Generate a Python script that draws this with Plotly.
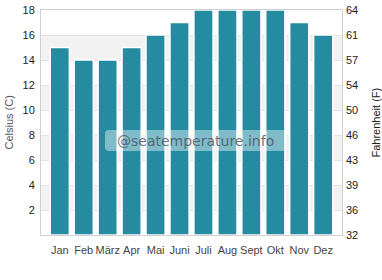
import plotly.graph_objects as go

months = ["Jan", "Feb", "März", "Apr", "Mai", "Juni", "Juli", "Aug", "Sept", "Okt", "Nov", "Dez"]
celsius = [15, 14, 14, 15, 16, 17, 18, 18, 18, 18, 17, 16]
c_ticks = [2, 4, 6, 8, 10, 12, 14, 16, 18]
f_tickvals = [0, 2, 4, 6, 8, 10, 12, 14, 16, 18]
f_ticktext = ["32", "36", "39", "43", "46", "50", "54", "57", "61", "64"]
band_ranges = [(2, 4), (6, 8), (10, 12), (14, 16)]

L, R, T, B = 41, 40, 10, 45
W, H = 382, 280
pw = W - L - R

fig = go.Figure()
fig.add_trace(go.Bar(
    x=months, y=celsius,
    marker=dict(color="#248ba0", line=dict(color="white", width=1.5)),
    hoverinfo="skip",
))
fig.add_trace(go.Scatter(x=months, y=celsius, yaxis="y2", mode="markers",
                         marker=dict(opacity=0), hoverinfo="skip", showlegend=False))

shapes = []
for lo, hi in band_ranges:
    shapes.append(dict(type="rect", xref="paper", yref="y", x0=0, x1=1, y0=lo, y1=hi,
                       fillcolor="#f2f2f2", line=dict(width=0), layer="below"))

x0, x1, y0, y1 = 0.2126, 0.817, 0.373, 0.4667
rx, ry = 0.013, 0.018
path = (f"M {x0+rx},{y0} L {x1-rx},{y0} Q {x1},{y0} {x1},{y0+ry} "
        f"L {x1},{y1-ry} Q {x1},{y1} {x1-rx},{y1} L {x0+rx},{y1} "
        f"Q {x0},{y1} {x0},{y1-ry} L {x0},{y0+ry} Q {x0},{y0} {x0+rx},{y0} Z")
shapes.append(dict(type="path", xref="paper", yref="paper", path=path,
                   fillcolor="rgba(255,255,255,0.42)", line=dict(width=0), layer="above"))

fig.update_layout(
    width=W, height=H,
    margin=dict(l=L, r=R, t=T, b=B, autoexpand=False),
    paper_bgcolor="white", plot_bgcolor="white",
    showlegend=False, bargap=0.2,
    shapes=shapes,
    font=dict(family="Liberation Sans, Arial", size=11, color="#333"),
    xaxis=dict(showline=True, linecolor="#d0d0d0", mirror=True, ticks="",
               ticklabelstandoff=5,
               automargin=False, tickfont=dict(size=11, color="#444"), fixedrange=True),
    yaxis=dict(range=[0, 18], tickvals=c_ticks, showgrid=True, gridcolor="#e4e4e4",
               showline=True, linecolor="#d0d0d0", mirror=True, zeroline=False,
               ticklabelstandoff=3,
               automargin=False, ticks="", tickfont=dict(size=11, color="#222")),
    yaxis2=dict(range=[0, 18], tickvals=f_tickvals, ticktext=f_ticktext, overlaying="y",
                side="right", showgrid=False, zeroline=False, ticks="", automargin=False,
                ticklabelstandoff=3,
                tickfont=dict(size=11, color="#222")),
    annotations=[
        dict(text="@seatemperature.info", xref="paper", yref="paper",
             x=(x0 + x1) / 2, y=(y0 + y1) / 2, showarrow=False,
             font=dict(family="DejaVu Sans", size=14, color="rgba(70,70,85,0.75)")),
        dict(text="Celsius (C)", xref="paper", yref="paper", x=(8 - L) / pw, y=0.5,
             xanchor="center", yanchor="middle",
             textangle=-90, showarrow=False, font=dict(size=11, color="#555")),
        dict(text="Fahrenheit (F)", xref="paper", yref="paper", x=(375 - L) / pw, y=0.5,
             xanchor="center", yanchor="middle",
             textangle=-90, showarrow=False, font=dict(size=11, color="#222")),
    ],
)

fig.write_html("out.html", config={"displayModeBar": False},
               post_script="document.body.style.margin='0';")
